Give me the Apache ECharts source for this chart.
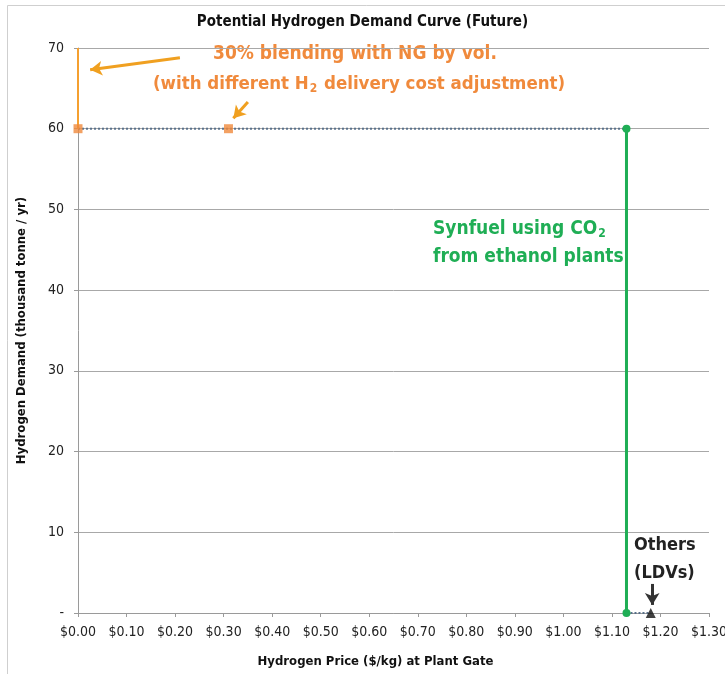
<!DOCTYPE html>
<html>
<head>
<meta charset="utf-8">
<script src="https://cdn.jsdelivr.net/npm/echarts@6/dist/echarts.min.js"></script>
<style>
  html, body { margin: 0; padding: 0; background: #fff; }
  #chart { width: 725px; height: 674px; }
</style>
</head>
<body>
<div id="chart"></div>
<script>
// Price ticks ($/kg) and demand ticks (thousand tonne / yr)
const priceTicks = [0, 0.1, 0.2, 0.3, 0.4, 0.5, 0.6, 0.7, 0.8, 0.9, 1.0, 1.1, 1.2, 1.3];
const demandTicks = [0, 10, 20, 30, 40, 50, 60, 70];

// Blending with natural gas: vertical segment at $0 and the two price points at 60
const blendingRise = [[0, 70], [0, 60]];
const blendingPoints = [[0, 60], [0.31, 60]];
// Flat stretch of the demand curve
const flatDemand = [[0, 60], [1.13, 60]];
// Synfuel using CO2 from ethanol plants
const synfuelDrop = [[1.13, 60], [1.13, 0]];
// Other uses (LDVs)
const othersTail = [[1.13, 0], [1.18, 0]];
const othersPoint = [[1.18, 0]];

// Annotation arrows, in data units
const blendArrowA = [[0.21, 68.8], [0.025, 67.3]];
const blendArrowB = [[0.35, 63.3], [0.32, 61.3]];
const othersArrow = [[1.183, 3.6], [1.183, 1.0]];

const FONT = '"DejaVu Sans Condensed", "Open Sans", sans-serif';
const ORANGE = '#f08a3c';
const GREEN = '#1fae55';

function arrowLine(pts, color, width) {
  return {
    silent: true,
    symbol: ['none', 'arrow'],
    symbolSize: [11, 12],
    lineStyle: { color: color, width: width, type: 'solid' },
    label: { show: false },
    data: [[{ coord: pts[0] }, { coord: pts[1] }]]
  };
}

const chart = echarts.init(document.getElementById('chart'));
chart.setOption({
  animation: false,
  backgroundColor: '#fff',
  title: {
    text: 'Potential Hydrogen Demand Curve (Future)',
    left: 'center',
    top: 10,
    textStyle: { fontFamily: FONT, fontSize: 15, fontWeight: 'bold', color: '#111' }
  },
  grid: { left: 78, right: 16, top: 48, bottom: 61, outerBoundsMode: 'none', containLabel: false },
  xAxis: {
    type: 'value',
    min: 0, max: 1.3, interval: 0.1,
    name: 'Hydrogen Price ($/kg) at Plant Gate',
    nameLocation: 'middle',
    nameGap: 42,
    nameTextStyle: { fontFamily: FONT, fontSize: 13, fontWeight: 'bold', color: '#111', padding: [0, 36, 0, 0] },
    axisLine: { show: true, onZero: false, lineStyle: { color: '#9a9a9a', width: 1 } },
    axisTick: { show: true, length: 4, inside: false, lineStyle: { color: '#9a9a9a' } },
    axisLabel: {
      margin: 12, fontFamily: FONT, fontSize: 14, color: '#222',
      formatter: v => '$' + v.toFixed(2)
    },
    splitLine: { show: false }
  },
  yAxis: {
    type: 'value',
    min: 0, max: 70, interval: 10,
    name: 'Hydrogen Demand (thousand tonne / yr)',
    nameLocation: 'middle',
    nameGap: 50,
    nameTextStyle: { fontFamily: FONT, fontSize: 13, fontWeight: 'bold', color: '#111' },
    axisLine: { show: true, lineStyle: { color: '#9a9a9a', width: 1 } },
    axisTick: { show: true, length: 4, lineStyle: { color: '#9a9a9a' } },
    axisLabel: {
      margin: 14, fontFamily: FONT, fontSize: 14, color: '#222',
      formatter: v => (v === 0 ? '-' : String(v))
    },
    splitLine: { show: true, lineStyle: { color: '#a8a8a8', width: 1 } }
  },
  series: [
    {
      type: 'line', data: flatDemand, symbol: 'none', z: 2,
      lineStyle: { color: '#59708a', width: 2, type: [2, 2] },
      markLine: arrowLine(blendArrowA, '#f0a020', 3)
    },
    {
      type: 'line', data: blendingRise, symbol: 'none', z: 3,
      lineStyle: { color: '#f5a030', width: 2 },
      markLine: arrowLine(blendArrowB, '#f0a020', 3)
    },
    {
      type: 'line', data: othersTail, symbol: 'none', z: 2,
      lineStyle: { color: '#59708a', width: 2, type: [2, 2] },
      markLine: arrowLine(othersArrow, '#333', 3)
    },
    {
      type: 'line', data: synfuelDrop, symbol: 'circle', symbolSize: 8, z: 4,
      itemStyle: { color: GREEN },
      lineStyle: { color: GREEN, width: 3 }
    },
    {
      type: 'scatter', data: blendingPoints, symbol: 'rect', symbolSize: 9, z: 5,
      itemStyle: { color: ORANGE }
    },
    {
      type: 'scatter', data: othersPoint, symbol: 'triangle', symbolSize: 10, z: 5,
      itemStyle: { color: '#111' }
    }
  ],
  graphic: [
    {
      type: 'rect', silent: true, z: -1,
      shape: { x: 7.5, y: 5.5, width: 740, height: 700 },
      style: { fill: 'none', stroke: '#cfcfcf', lineWidth: 1 }
    },
    {
      type: 'text', silent: true, position: [213, 45],
      style: {
        text: '30% blending with NG by vol.',
        fontFamily: FONT, fontSize: 19, fontWeight: 'bold', fill: ORANGE
      }
    },
    {
      type: 'text', silent: true, position: [153, 74],
      style: {
        text: '{n|(with different H}{s|2}{n| delivery cost adjustment)}',
        rich: {
          n: { fontFamily: FONT, fontSize: 18.5, fontWeight: 'bold', fill: ORANGE },
          s: { fontFamily: FONT, fontSize: 12, fontWeight: 'bold', fill: ORANGE, padding: [9, 1, 0, 1] }
        }
      }
    },
    {
      type: 'text', silent: true, position: [433, 215],
      style: {
        text: '{n|Synfuel using CO}{s|2}\n{n|from ethanol plants}',
        rich: {
          n: { fontFamily: FONT, fontSize: 19, fontWeight: 'bold', fill: GREEN, lineHeight: 28 },
          s: { fontFamily: FONT, fontSize: 12, fontWeight: 'bold', fill: GREEN, padding: [9, 0, 0, 1] }
        }
      }
    },
    {
      type: 'text', silent: true, position: [634, 531],
      style: {
        text: 'Others\n(LDVs)',
        fontFamily: FONT, fontSize: 18, fontWeight: 'bold', fill: '#222', lineHeight: 28
      }
    }
  ]
});
</script>
</body>
</html>
